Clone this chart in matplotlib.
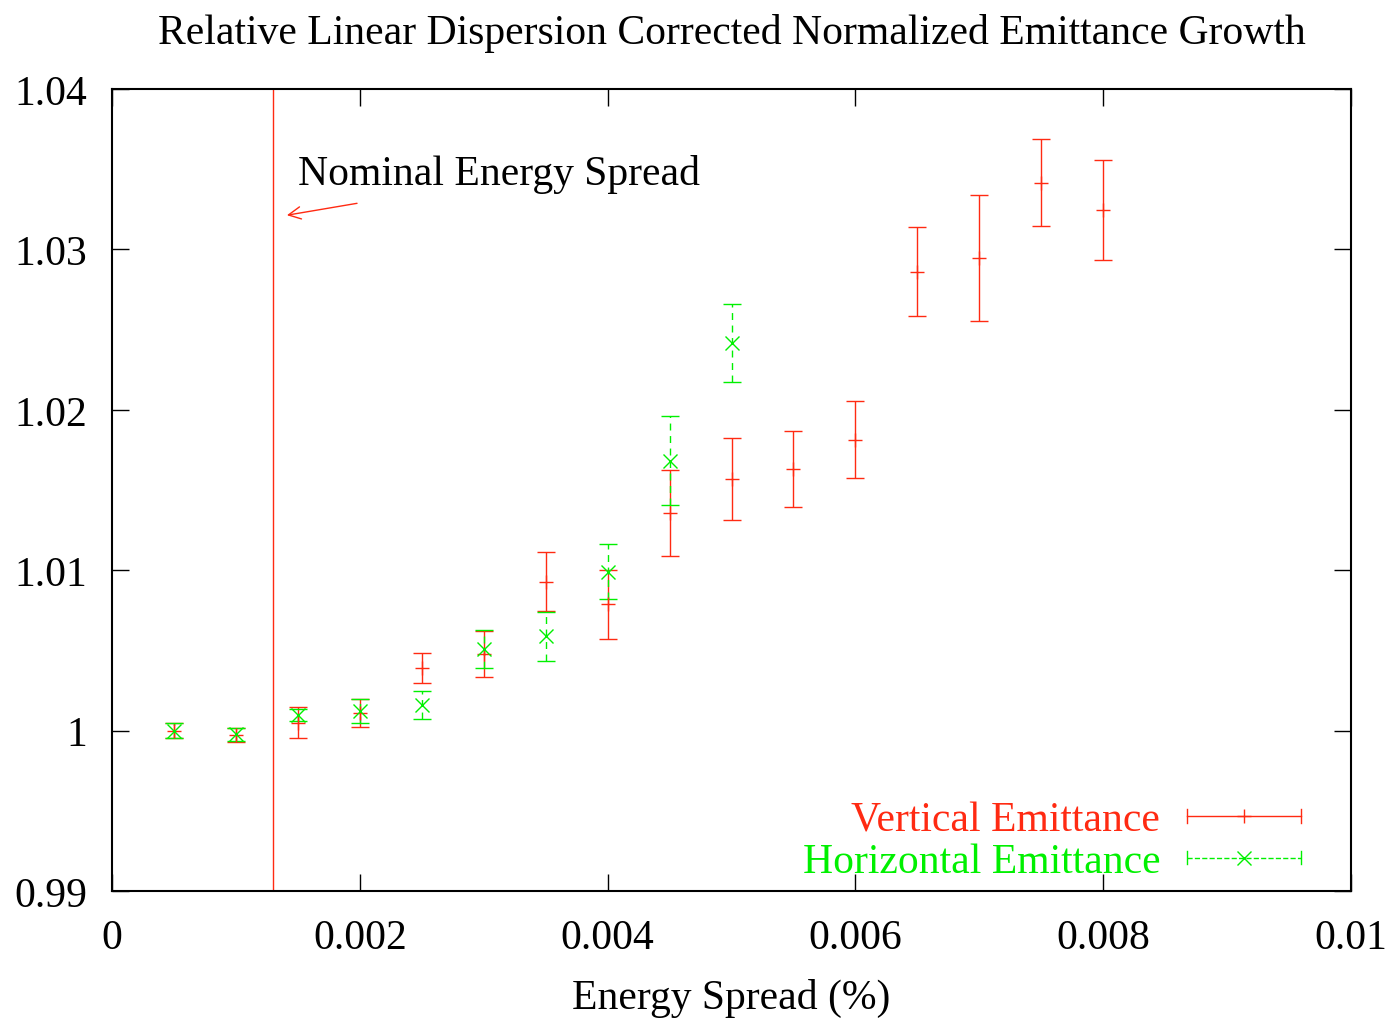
import numpy as np
import matplotlib
matplotlib.use('Agg')
import matplotlib.pyplot as plt
from matplotlib.lines import Line2D
from matplotlib.legend_handler import HandlerBase

plt.rcParams['font.family'] = ['Liberation Serif', 'DejaVu Serif']

RED = '#ff2a12'
GREEN = '#00f000'
FS = 30

# energy spread values
spread_v = [0.0005, 0.001, 0.0015, 0.002, 0.0025, 0.003, 0.0035, 0.004, 0.0045,
            0.005, 0.0055, 0.006, 0.0065, 0.007, 0.0075, 0.008]
growth_v = [1.0000, 0.99974, 1.0005, 1.0011, 1.0039, 1.0048, 1.00928, 1.00787, 1.01357,
            1.01569, 1.01631, 1.01812, 1.02861, 1.02948, 1.03416, 1.03246]
err_v = [0.00048, 0.00044, 0.00094, 0.00087, 0.00096, 0.00143, 0.00183, 0.00216, 0.00268,
         0.00255, 0.00236, 0.0024, 0.00276, 0.00394, 0.00273, 0.00312]

spread_h = [0.0005, 0.001, 0.0015, 0.002, 0.0025, 0.003, 0.0035, 0.004, 0.0045, 0.005]
growth_h = [1.0000, 0.99978, 1.00097, 1.0012, 1.00161, 1.00509, 1.00588, 1.00991, 1.01683, 1.02415]
err_h = [0.00045, 0.0004, 0.0004, 0.00075, 0.00086, 0.00117, 0.00154, 0.00173, 0.00277, 0.00244]

nominal = 0.0013

xticks = [0, 0.002, 0.004, 0.006, 0.008, 0.01]
xticklabels = ['0', '0.002', '0.004', '0.006', '0.008', '0.01']
yticks = [0.99, 1.0, 1.01, 1.02, 1.03, 1.04]
yticklabels = ['0.99', '1', '1.01', '1.02', '1.03', '1.04']


class ErrorBarKey(HandlerBase):
    # gnuplot style key: horizontal line with end ticks and the point in the middle
    def create_artists(self, legend, orig_handle, xdescent, ydescent,
                       width, height, fontsize, trans):
        c = orig_handle.get_color()
        ls = orig_handle.get_linestyle()
        yc = height / 2 - ydescent
        h = 0.32 * fontsize
        line = Line2D([-xdescent, width - xdescent], [yc, yc], color=c, lw=1, ls=ls)
        cap1 = Line2D([-xdescent] * 2, [yc - h / 2, yc + h / 2], color=c, lw=1)
        cap2 = Line2D([width - xdescent] * 2, [yc - h / 2, yc + h / 2], color=c, lw=1)
        pt = Line2D([width / 2 - xdescent], [yc], color=c, marker=orig_handle.get_marker(),
                    ms=orig_handle.get_markersize(), mew=1, ls='none')
        for a in (line, cap1, cap2, pt):
            a.set_transform(trans)
        return [line, cap1, cap2, pt]


fig = plt.figure(figsize=(13.94, 10.2), dpi=100)
ax = fig.add_axes([0.0803, 0.1255, 0.8889, 0.7863])

ax.axvline(nominal, color=RED, lw=1)

ax.errorbar(spread_v, growth_v, yerr=err_v, fmt='+', color=RED, ms=10, mew=1,
            elinewidth=1, capsize=6.5, capthick=1)
eb = ax.errorbar(spread_h, growth_h, yerr=err_h, fmt='x', color=GREEN, ms=10, mew=1,
                 elinewidth=1, capsize=6.5, capthick=1)
for col in eb[2]:
    col.set_linestyle((0, (5, 4)))

ax.annotate('', xy=(0.00139, 1.0321), xytext=(0.00200, 1.0329),
            arrowprops=dict(arrowstyle='->', color=RED, lw=1, mutation_scale=22))
ax.text(0.0015, 1.0347, 'Nominal Energy Spread', fontsize=FS, va='center', ha='left')

ax.set_xlim(0, 0.01)
ax.set_ylim(0.99, 1.04)
ax.set_xticks(xticks)
ax.set_xticklabels(xticklabels)
ax.set_yticks(yticks)
ax.set_yticklabels(yticklabels)
ax.tick_params(direction='in', length=12, width=1, top=True, right=True,
               labelsize=FS, pad=18)
ax.tick_params(axis='x', pad=20)
for s in ax.spines.values():
    s.set_linewidth(1.5)

ax.set_xlabel('Energy Spread (%)', fontsize=FS, labelpad=15)
ax.set_title('Relative Linear Dispersion Corrected Normalized Emittance Growth',
             fontsize=FS, pad=33)

handles = [Line2D([], [], color=RED, marker='+', ms=10, ls='-'),
           Line2D([], [], color=GREEN, marker='x', ms=10, ls=(0, (5, 4)))]
ax.legend(handles, ['Vertical Emittance', 'Horizontal Emittance'],
          handler_map={Line2D: ErrorBarKey()}, loc='lower right',
          bbox_to_anchor=(0.9596, 0.012), borderaxespad=0, borderpad=0,
          frameon=False, markerfirst=False, labelcolor=[RED, GREEN],
          fontsize=FS, handlelength=2.73, handletextpad=0.65, labelspacing=0.08)

fig.savefig('out.png', dpi=100)
